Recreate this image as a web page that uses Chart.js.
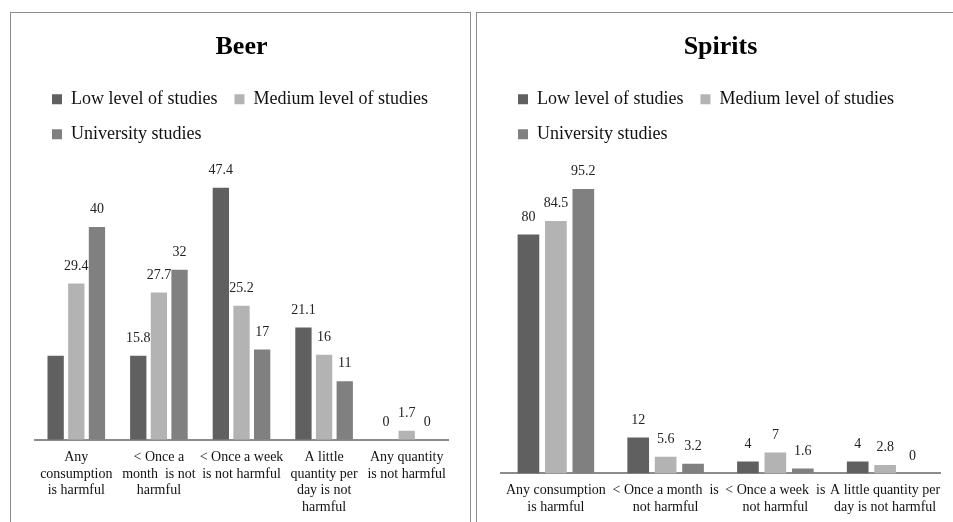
<!DOCTYPE html>
<html>
<head>
<meta charset="utf-8">
<script src="https://cdn.jsdelivr.net/npm/chart.js@4/dist/chart.umd.min.js"></script>
<style>
  html, body { margin: 0; padding: 0; background: #fff; overflow: hidden; }
  body { width: 953px; height: 522px; position: relative; }
  .panel { position: absolute; top: 12px; height: 540px; border: 1px solid #8c8c8c; box-sizing: border-box; background: #fff; }
  #beerPanel { left: 10px; width: 461px; }
  #spiritsPanel { left: 476px; width: 496px; }
  canvas { display: block; }
</style>
</head>
<body>
<div class="panel" id="beerPanel"><canvas id="beerChart" width="459" height="520"></canvas></div>
<div class="panel" id="spiritsPanel"><canvas id="spiritsChart" width="494" height="520"></canvas></div>

<script>
// series names + colours
const seriesNames = ['Low level of studies', 'Medium level of studies', 'University studies'];
const seriesColors = ['#606060', '#b3b3b3', '#808080'];

// Beer
const beerCategories = [
  ['Any', 'consumption', 'is harmful'],
  ['< Once a', 'month  is not', 'harmful'],
  ['< Once a week', 'is not harmful'],
  ['A little', 'quantity per', 'day is not', 'harmful'],
  ['Any quantity', 'is not harmful']
];
const beerLow = [15.8, 15.8, 47.4, 21.1, 0];
const beerMedium = [29.4, 27.7, 25.2, 16, 1.7];
const beerUniversity = [40, 32, 17, 11, 0];
const beerHiddenLabels = ['0-0']; // dataset-index with no value label in the original

// Spirits
const spiritsCategories = [
  ['Any consumption', 'is harmful'],
  ['< Once a month  is', 'not harmful'],
  ['< Once a week  is', 'not harmful'],
  ['A little quantity per', 'day is not harmful']
];
const spiritsLow = [80, 12, 4, 4];
const spiritsMedium = [84.5, 5.6, 7, 2.8];
const spiritsUniversity = [95.2, 3.2, 1.6, 0];
const spiritsHiddenLabels = [];

const serif = "'Liberation Serif', 'Times New Roman', serif";

// draws the value above each bar (no datalabels plugin available)
const valueLabels = {
  id: 'valueLabels',
  afterDatasetsDraw(chart, args, opts) {
    const { ctx } = chart;
    const hidden = opts.hidden || [];
    ctx.save();
    ctx.font = `14px ${serif}`;
    ctx.fillStyle = '#222';
    ctx.textAlign = 'center';
    ctx.textBaseline = 'middle';
    chart.data.datasets.forEach((ds, di) => {
      chart.getDatasetMeta(di).data.forEach((bar, i) => {
        if (hidden.includes(`${di}-${i}`)) return;
        ctx.fillText(String(ds.data[i]), bar.x, bar.y - 17.5);
      });
    });
    ctx.restore();
  }
};

function makeChart(id, title, categories, series, yMax, pad, hidden) {
  return new Chart(document.getElementById(id), {
    type: 'bar',
    data: {
      labels: categories,
      datasets: series.map((data, i) => ({
        label: seriesNames[i],
        data,
        backgroundColor: seriesColors[i],
        borderWidth: 0,
        categoryPercentage: 0.75,
        barPercentage: 0.79
      }))
    },
    options: {
      responsive: false,
      animation: false,
      layout: { padding: { left: pad.left, right: pad.right, top: 0, bottom: 8 } },
      plugins: {
        title: {
          display: true,
          text: title,
          color: '#000',
          font: { family: serif, size: 26, weight: 'bold' },
          padding: { top: 19, bottom: 10 }
        },
        legend: {
          position: 'top',
          align: 'start',
          labels: {
            color: '#111',
            font: { family: serif, size: 18 },
            boxWidth: 10,
            boxHeight: 10,
            padding: 17
          }
        },
        tooltip: { enabled: false },
        valueLabels: { hidden }
      },
      scales: {
        x: {
          grid: { display: false, drawTicks: false, tickLength: 0 },
          border: { display: true, color: '#8c8c8c', width: 2 },
          ticks: {
            color: '#111',
            font: { family: serif, size: 14 },
            padding: 9,
            maxRotation: 0,
            autoSkip: false
          }
        },
        y: { display: false, min: 0, max: yMax }
      }
    },
    plugins: [valueLabels]
  });
}

makeChart('beerChart', 'Beer', beerCategories,
  [beerLow, beerMedium, beerUniversity], 53.9, { left: 24, right: 22 }, beerHiddenLabels);

makeChart('spiritsChart', 'Spirits', spiritsCategories,
  [spiritsLow, spiritsMedium, spiritsUniversity], 107.2, { left: 24, right: 31 }, spiritsHiddenLabels);
</script>
</body>
</html>
